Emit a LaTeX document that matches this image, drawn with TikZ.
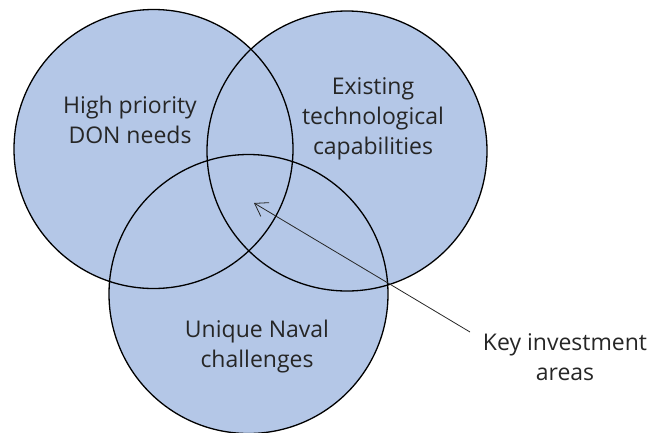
\documentclass[tikz,border=0pt]{standalone}
\usepackage{fontspec}
\setmainfont{Open Sans}
\usetikzlibrary{arrows.meta}
\definecolor{vennfill}{RGB}{180,199,231}
\definecolor{txt}{RGB}{38,38,38}
\tikzset{
  venn/.style={draw=black, line width=1.3pt},
  lbl/.style={align=center, text=txt, font=\fontsize{23}{30}\selectfont, inner sep=0pt}
}
\begin{document}
\begin{tikzpicture}[x=1pt,y=-1pt]
\useasboundingbox (0,0) rectangle (650,432);
\coordinate (cl) at (153.5,149);
\coordinate (cr) at (347,151);
\coordinate (cb) at (248.5,294);
\fill[vennfill] (cl) circle (139.5);
\fill[vennfill] (cr) circle (140);
\fill[vennfill] (cb) circle (139.5);
\draw[venn] (cl) circle (139.5);
\draw[venn] (cr) circle (140);
\draw[venn] (cb) circle (139.5);
\node[lbl] (high) at (130,120) {High priority\\DON needs};
\node[lbl] (exist) at (373,119) {Existing\\technological\\capabilities};
\node[lbl] (naval) at (257,347) {Unique Naval\\challenges};
\node[lbl] (key) at (565,357) {Key investment\\areas};
\coordinate (tip) at (254,203);
\coordinate (tail) at (470,332);
\draw[draw=txt, line width=0.8pt, -{Straight Barb[length=12pt,width=16pt]}] (tail) -- (tip);
\end{tikzpicture}
\end{document}
